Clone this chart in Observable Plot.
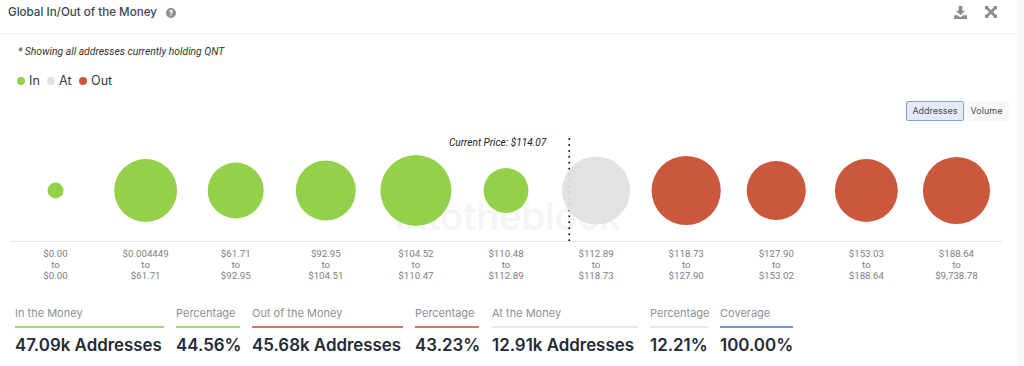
<!DOCTYPE html>
<html><head><meta charset="utf-8">
<script src="https://cdn.jsdelivr.net/npm/d3@7"></script>
<script src="https://cdn.jsdelivr.net/npm/@observablehq/plot@0.6"></script>
<style>
html,body{margin:0;padding:0;background:#fff;width:1024px;height:366px;overflow:hidden;font-family:Inter,sans-serif}
.a{position:absolute;white-space:nowrap}
#chart{position:absolute;left:0;top:127px}
#chart svg{display:block;background:transparent}
.stat{position:absolute;top:306px}
.stat .l{font-size:11px;color:#8b9097;height:15px;line-height:15px;padding-bottom:5px;border-bottom:2px solid;}
.stat .v{font-size:16.9px;font-weight:600;color:#252b36;line-height:22px;margin-top:6px;white-space:nowrap}
</style></head><body>
<div class="a" style="left:1017px;top:0;width:7px;height:366px;background:#f8f9fb"></div>
<div class="a" style="left:0;top:33px;width:1017px;height:1px;background:#f2f3f4"></div>
<div class="a" id="title" style="left:8px;top:4px;font-size:11.6px;font-weight:500;color:#3d444e;line-height:17px">Global In/Out of the Money</div>
<div class="a" style="left:166px;top:8px;width:10px;height:10px;border-radius:50%;background:#8e8e8e;color:#fff;font-size:8px;font-weight:700;line-height:10px;text-align:center">?</div>
<svg class="a" style="left:954px;top:6px" width="13" height="13" viewBox="0 0 14 14"><path d="M5 0h4v5h3L7 10 2 5h3zM0 10h4l3 2 3-2h4v4H0z" fill="#8f8f8f"/></svg>
<svg class="a" style="left:985px;top:6px" width="12" height="12" viewBox="0 0 12 12"><path d="M0 0h4L3 1l3 3 3-3-1-1h4v4l-1-1-3 3 3 3 1-1v4H8l1-1-3-3-3 3 1 1H0V8l1 1 3-3-3-3-1 1z" fill="#8f8f8f"/></svg>
<div class="a" style="left:18px;top:45px;font-family:Roboto,sans-serif;font-style:italic;font-size:10.35px;color:#333;line-height:13px">* Showing all addresses currently holding QNT</div>
<div id="legend"></div>
<div class="a" style="left:906px;top:101px;width:56px;height:18px;border:1px solid #7f9fe3;border-radius:2px;background:#e5eaf5;font-size:9px;line-height:18px;text-align:center;color:#444b57">Addresses</div>
<div class="a" style="left:964px;top:101px;width:45px;height:20px;background:#f8f8f8;font-size:9px;line-height:20px;text-align:center;color:#444b57">Volume</div>
<div id="chart"></div>
<div id="stats"></div>
<script>
const priceFrom = ["$0.00","$0.004449","$61.71","$92.95","$104.52","$110.48","$112.89","$118.73","$127.90","$153.03","$188.64"];
const priceTo = ["$0.00","$61.71","$92.95","$104.51","$110.47","$112.89","$118.73","$127.90","$153.02","$188.64","$9,738.78"];
const addresses = [700,11000,8700,10000,14000,5600,12900,13300,9700,11000,12500];
const status = ["In","In","In","In","In","In","At","Out","Out","Out","Out"];
const legendNames = ["In","At","Out"];
const legendColors = ["#92d14a","#e2e2e2","#cc573c"];
const markColors = ["#89cd3a","#dfdfdf","#c7492b"];
const currentPrice = 114.07;
const binLow = 112.89, binHigh = 118.73, binIndex = 6;

const statLabels = ["In the Money","Percentage","Out of the Money","Percentage","At the Money","Percentage","Coverage"];
const statValues = ["47.09k Addresses","44.56%","45.68k Addresses","43.23%","12.91k Addresses","12.21%","100.00%"];
const statColors = ["#a3d866","#a3d866","#e0735f","#e0735f","#e6e6e6","#e6e6e6","#6f93ea"];
const statLefts = [15,176,252,415,492,650,720];
const statWidths = [149,64,151,64,146,58,73];

const bins = priceFrom.map((from,i)=>({pos:i+0.5,from,to:priceTo[i],value:addresses[i],status:status[i]}));
const pricePos = binIndex + (currentPrice-binLow)/(binHigh-binLow);

const plot = Plot.plot({
  width:1024,height:156,
  marginLeft:10,marginRight:23,marginTop:12,marginBottom:42,
  x:{type:"linear",domain:[0,11],label:null},
  r:{type:"sqrt",domain:[0,14000],range:[0,35.5]},
  color:{domain:legendNames,range:markColors},
  style:{background:"transparent",overflow:"visible",fontFamily:"Inter,sans-serif"},
  marks:[
    Plot.text(["intotheblock"],{frameAnchor:"bottom",x:[pricePos-0.68],dy:-12,fontSize:38,fontFamily:"Inter,sans-serif",fill:"#f4f5f6",fontWeight:500}),
    Plot.ruleX([pricePos],{stroke:"#111",strokeWidth:2,strokeDasharray:"0 5.95",strokeLinecap:"round"}),
    Plot.dot(bins,{x:"pos",frameAnchor:"middle",r:"value",fill:"status",fillOpacity:0.92,stroke:"none"}),
    Plot.text([`Current Price: $${currentPrice}`],{x:[pricePos],frameAnchor:"top",textAnchor:"end",dx:-23,dy:-1,fontFamily:"Roboto,sans-serif",fontStyle:"italic",fontSize:10.1,fill:"#222"}),
    Plot.frame({anchor:"bottom",stroke:"#e4e4f2"}),
    Plot.axisX({anchor:"bottom",ticks:bins.map(d=>d.pos),tickSize:0,tickPadding:8,lineHeight:1.14,
      tickFormat:p=>{const b=bins.find(d=>d.pos===p);return `${b.from}\nto\n${b.to}`},
      fontFamily:"Roboto,sans-serif",fontSize:9.7,fill:"#7c8087",fillOpacity:1,label:null})
  ]
});
document.getElementById("chart").append(plot);

const legendLefts=[17,47,79];
document.getElementById("legend").innerHTML = legendNames.map((n,i)=>
 `<div class="a" style="left:${legendLefts[i]}px;top:77px;width:8px;height:8px;border-radius:50%;background:${legendColors[i]}"></div>
  <div class="a" style="left:${legendLefts[i]+12}px;top:73px;font-size:12.6px;line-height:16px;color:#333a45">${n}</div>`).join("");

document.getElementById("stats").innerHTML = statLabels.map((l,i)=>
 `<div class="stat" style="left:${statLefts[i]}px;width:${statWidths[i]}px"><div class="l" style="border-color:${statColors[i]}">${l}</div><div class="v">${statValues[i]}</div></div>`).join("");
</script>
</body></html>
